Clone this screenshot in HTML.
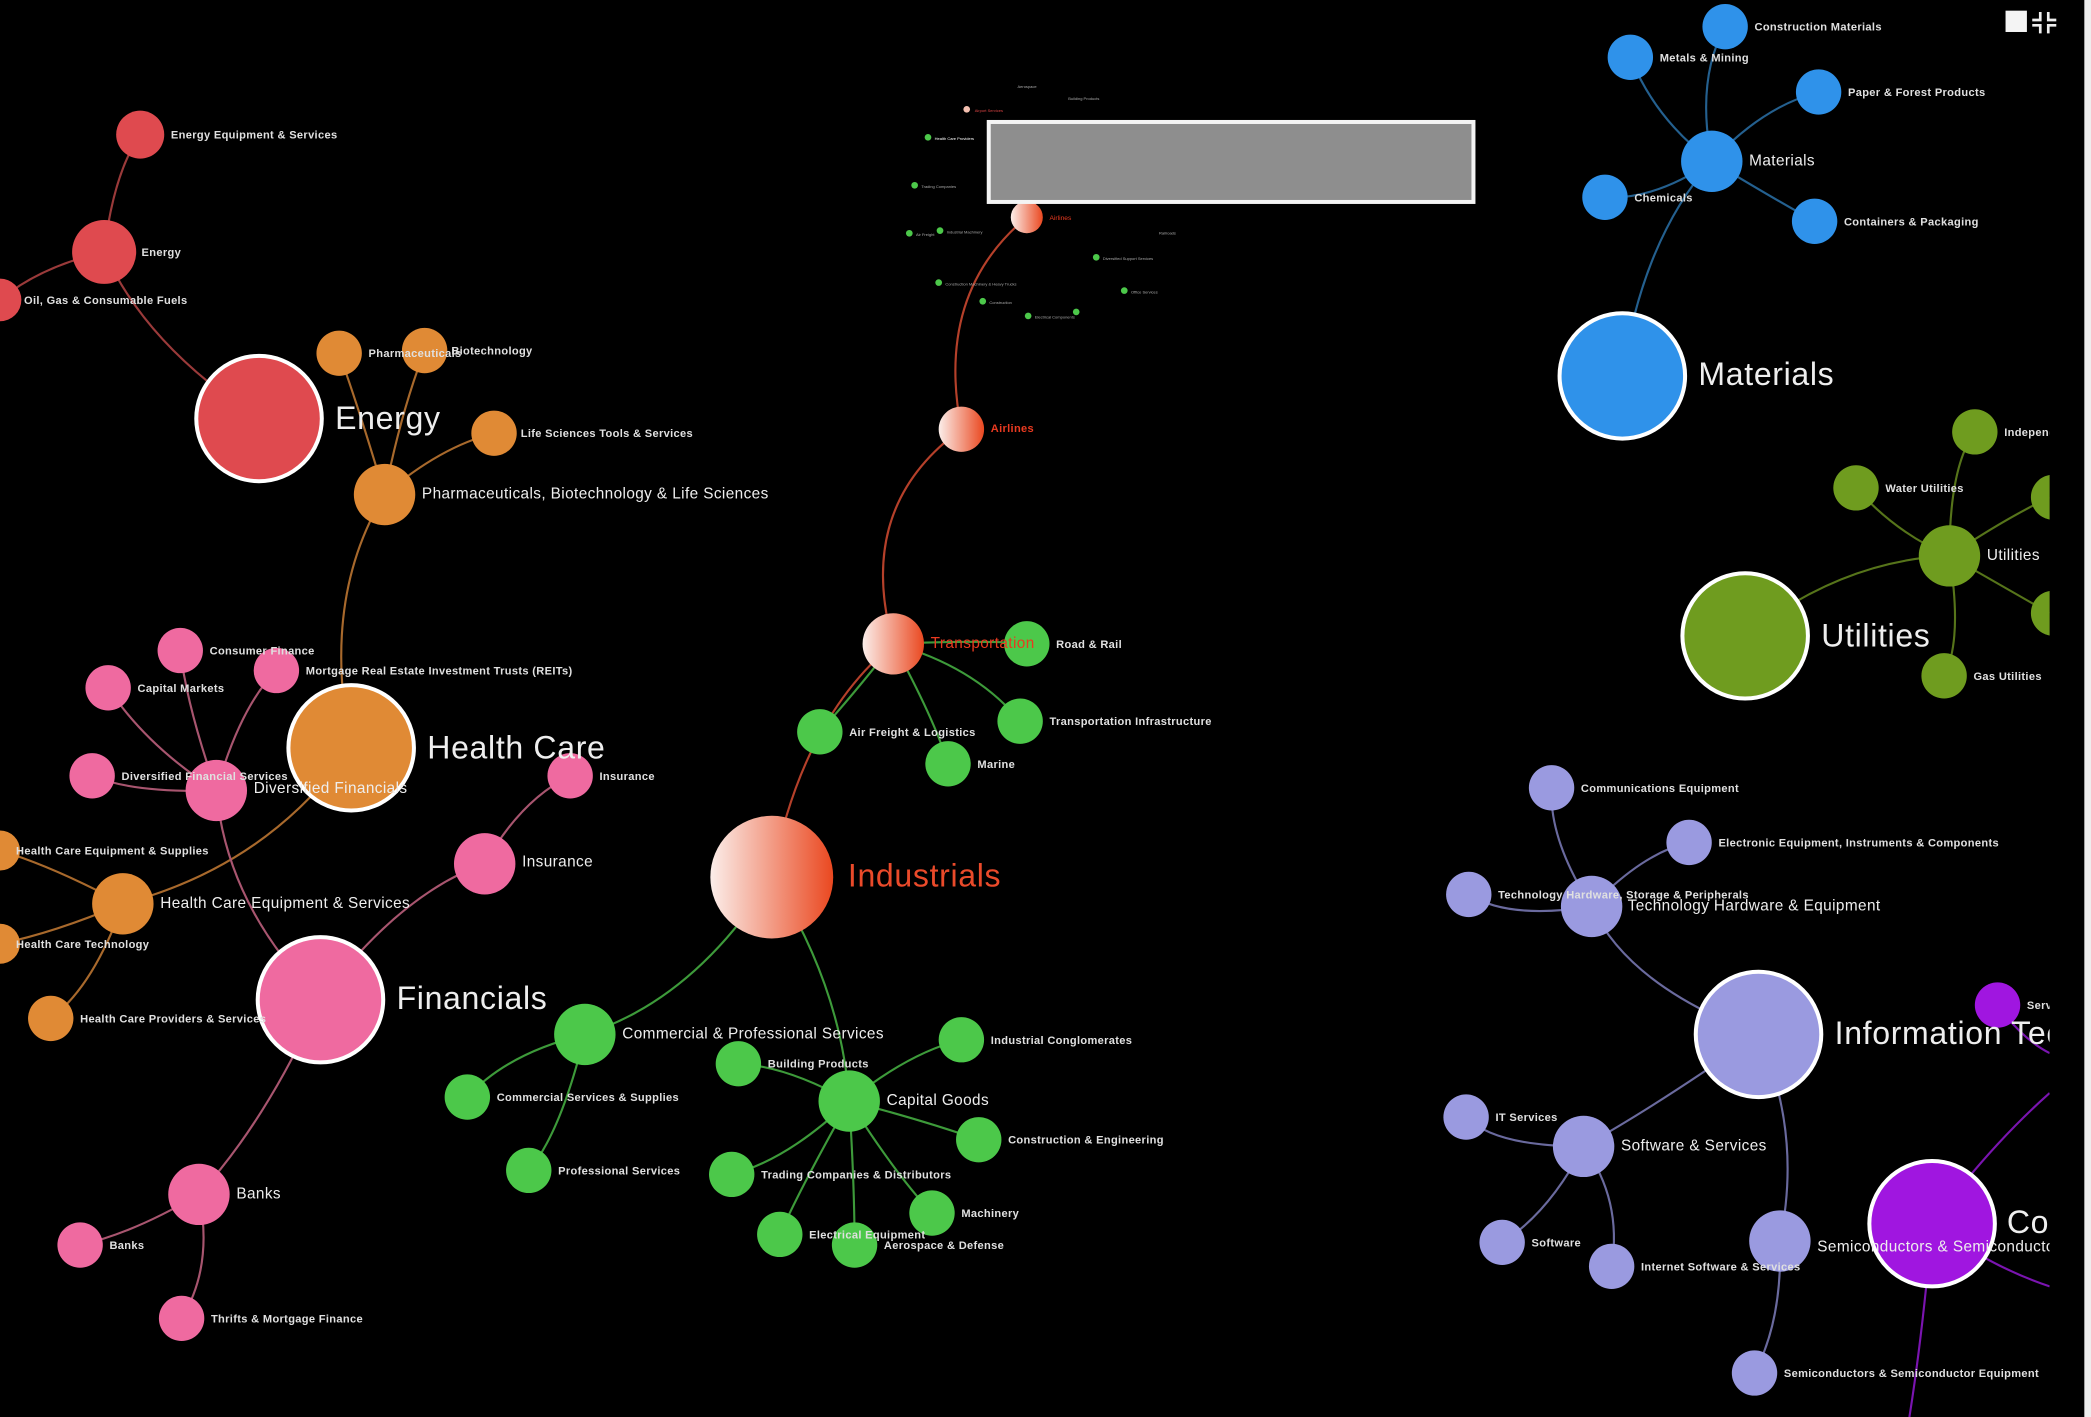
<!DOCTYPE html>
<html><head><meta charset="utf-8"><style>
html,body{margin:0;padding:0;background:#000;width:2091px;height:1417px;overflow:hidden}
svg{display:block}
text{font-family:"Liberation Sans",sans-serif;fill:#fff}
.s{font-size:8.3px;font-weight:bold;fill:#e0e0e0;letter-spacing:0.25px}
.m{font-size:11.5px;fill:#eee;letter-spacing:0.3px}
.b{font-size:24px;fill:#eee;letter-spacing:0.5px}
</style></head><body>
<svg width="2091" height="1417" viewBox="0 0 1566 1063" preserveAspectRatio="none">
<defs>
<linearGradient id="ig" x1="0" x2="1" y1="0" y2="0"><stop offset="0" stop-color="#fbeeea"/><stop offset="1" stop-color="#ea4820"/></linearGradient>
<clipPath id="cp"><rect x="0" y="0" width="1535" height="1063"/></clipPath>
</defs>
<rect width="1566" height="1063" fill="#000"/>
<rect x="1561" y="0" width="5" height="1063" fill="#eee"/>
<g clip-path="url(#cp)" fill="none" stroke-width="1.6">
<g stroke="#9a3a3a">
<path d="M194,314 Q110,260 78,189"/><path d="M78,189 Q85,130 105,101"/><path d="M78,189 Q30,200 0,225"/>
</g>
<g stroke="#a8692c">
<path d="M263,561 Q240,450 288,371"/><path d="M288,371 Q270,310 254,265"/><path d="M288,371 Q300,310 318,263"/><path d="M288,371 Q330,335 370,325"/>
<path d="M263,561 Q200,650 92,678"/><path d="M92,678 Q40,650 0,638"/><path d="M92,678 Q40,700 0,708"/><path d="M92,678 Q70,740 38,764"/>
</g>
<g stroke="#a8556f">
<path d="M240,750 Q170,680 162,593"/><path d="M162,593 Q140,530 135,488"/><path d="M162,593 Q110,560 81,516"/><path d="M162,593 Q180,530 207,503"/><path d="M162,593 Q100,595 69,582"/>
<path d="M240,750 Q300,670 363,648"/><path d="M363,648 Q390,600 427,582"/>
<path d="M240,750 Q200,840 149,896"/><path d="M149,896 Q100,925 60,934"/><path d="M149,896 Q160,950 136,989"/>
</g>
<g stroke="#b5402a">
<path d="M578,658 Q600,540 669,483"/><path d="M669,483 Q640,380 720,322"/><path d="M720,322 Q700,220 769,163"/>
</g>
<g stroke="#3d9a3a">
<path d="M669,483 Q740,480 769,483"/><path d="M669,483 Q730,500 764,541"/><path d="M669,483 Q700,540 710,573"/><path d="M669,483 Q640,520 614,549"/>
<path d="M578,658 Q520,750 438,776"/><path d="M438,776 Q380,790 350,823"/><path d="M438,776 Q420,850 396,878"/>
<path d="M578,658 Q630,740 636,826"/><path d="M636,826 Q590,800 553,798"/><path d="M636,826 Q680,790 720,780"/><path d="M636,826 Q690,840 733,855"/><path d="M636,826 Q590,870 548,881"/><path d="M636,826 Q670,880 698,910"/><path d="M636,826 Q600,890 584,926"/><path d="M636,826 Q640,890 640,934"/>
</g>
<g stroke="#24608f">
<path d="M1215,282 Q1230,180 1282,121"/><path d="M1282,121 Q1270,60 1292,20"/><path d="M1282,121 Q1240,90 1221,43"/><path d="M1282,121 Q1320,80 1362,69"/><path d="M1282,121 Q1240,150 1202,148"/><path d="M1282,121 Q1330,150 1359,166"/>
</g>
<g stroke="#56741a">
<path d="M1307,477 Q1380,420 1460,417"/><path d="M1460,417 Q1420,400 1390,366"/><path d="M1460,417 Q1460,350 1479,324"/><path d="M1460,417 Q1470,480 1456,507"/><path d="M1460,417 Q1500,390 1535,373"/><path d="M1460,417 Q1500,440 1535,460"/>
</g>
<g stroke="#6a6a9e">
<path d="M1317,776 Q1220,740 1192,680"/><path d="M1192,680 Q1160,630 1162,591"/><path d="M1192,680 Q1230,640 1265,632"/><path d="M1192,680 Q1130,690 1100,671"/>
<path d="M1317,776 Q1240,830 1186,860"/><path d="M1186,860 Q1120,860 1098,838"/><path d="M1186,860 Q1160,910 1125,932"/><path d="M1186,860 Q1215,900 1207,950"/>
<path d="M1317,776 Q1350,850 1333,931"/><path d="M1333,931 Q1335,990 1314,1030"/>
</g>
<g stroke="#7a14b0">
<path d="M1447,918 Q1490,860 1535,820"/><path d="M1447,918 Q1490,950 1535,965"/><path d="M1447,918 Q1440,1000 1430,1063"/><path d="M1496,754 Q1515,780 1535,790"/>
</g>
<g fill="#4cc84a" stroke="none">
<circle cx="695" cy="103" r="2.5"/><circle cx="685" cy="139" r="2.5"/><circle cx="681" cy="175" r="2.5"/><circle cx="704" cy="173" r="2.5"/><circle cx="703" cy="212" r="2.5"/><circle cx="736" cy="226" r="2.5"/><circle cx="770" cy="237" r="2.5"/><circle cx="821" cy="193" r="2.5"/><circle cx="842" cy="218" r="2.5"/><circle cx="806" cy="234" r="2.5"/>
</g>
<circle cx="724" cy="82" r="2.5" fill="#f4c0b0" stroke="none"/>
<g stroke="none" style="font-size:3px">
<text x="700" y="105" fill="#aaa" style="font-size:3px">Health Care Providers</text><text x="690" y="141" style="font-size:3px;fill:#aaa">Trading Companies</text><text x="686" y="177" style="font-size:3px;fill:#aaa">Air Freight</text><text x="709" y="175" style="font-size:3px;fill:#aaa">Industrial Machinery</text><text x="708" y="214" style="font-size:3px;fill:#aaa">Construction Machinery &amp; Heavy Trucks</text><text x="741" y="228" style="font-size:3px;fill:#aaa">Construction</text><text x="775" y="239" style="font-size:3px;fill:#aaa">Electrical Components</text><text x="826" y="195" style="font-size:3px;fill:#aaa">Diversified Support Services</text><text x="847" y="220" style="font-size:3px;fill:#aaa">Office Services</text><text x="762" y="66" style="font-size:3px;fill:#aaa">Aerospace</text><text x="800" y="75" style="font-size:3px;fill:#aaa">Building Products</text><text x="868" y="176" style="font-size:3px;fill:#aaa">Railroads</text>
</g>
<text x="730" y="84" style="font-size:3px;fill:#d44">Airport Services</text>
<g stroke="none">
<g fill="#df4a4f"><circle cx="78" cy="189" r="24"/><circle cx="105" cy="101" r="18"/><circle cx="0" cy="225" r="16"/></g>
<circle cx="194" cy="314" r="47" fill="#df4a4f" stroke="#fff" stroke-width="3"/>
<g fill="#e08a35"><circle cx="288" cy="371" r="23"/><circle cx="254" cy="265" r="17"/><circle cx="318" cy="263" r="17"/><circle cx="370" cy="325" r="17"/><circle cx="92" cy="678" r="23"/><circle cx="0" cy="638" r="15"/><circle cx="0" cy="708" r="15"/><circle cx="38" cy="764" r="17"/></g>
<circle cx="263" cy="561" r="47" fill="#e08a35" stroke="#fff" stroke-width="3"/>
<g fill="#ef6aa0"><circle cx="135" cy="488" r="17"/><circle cx="81" cy="516" r="17"/><circle cx="207" cy="503" r="17"/><circle cx="69" cy="582" r="17"/><circle cx="162" cy="593" r="23"/><circle cx="363" cy="648" r="23"/><circle cx="427" cy="582" r="17"/><circle cx="149" cy="896" r="23"/><circle cx="60" cy="934" r="17"/><circle cx="136" cy="989" r="17"/></g>
<circle cx="240" cy="750" r="47" fill="#ef6aa0" stroke="#fff" stroke-width="3"/>
<circle cx="578" cy="658" r="46" fill="url(#ig)"/>
<circle cx="669" cy="483" r="23" fill="url(#ig)"/>
<circle cx="720" cy="322" r="17" fill="url(#ig)"/>
<circle cx="769" cy="163" r="12" fill="url(#ig)"/>
<g fill="#4cc84a"><circle cx="769" cy="483" r="17"/><circle cx="764" cy="541" r="17"/><circle cx="710" cy="573" r="17"/><circle cx="614" cy="549" r="17"/><circle cx="438" cy="776" r="23"/><circle cx="350" cy="823" r="17"/><circle cx="396" cy="878" r="17"/><circle cx="636" cy="826" r="23"/><circle cx="553" cy="798" r="17"/><circle cx="720" cy="780" r="17"/><circle cx="733" cy="855" r="17"/><circle cx="548" cy="881" r="17"/><circle cx="698" cy="910" r="17"/><circle cx="584" cy="926" r="17"/><circle cx="640" cy="934" r="17"/></g>
<g fill="#2f92ea"><circle cx="1282" cy="121" r="23"/><circle cx="1292" cy="20" r="17"/><circle cx="1221" cy="43" r="17"/><circle cx="1362" cy="69" r="17"/><circle cx="1202" cy="148" r="17"/><circle cx="1359" cy="166" r="17"/></g>
<circle cx="1215" cy="282" r="47" fill="#2f92ea" stroke="#fff" stroke-width="3"/>
<g fill="#6f9c1f"><circle cx="1460" cy="417" r="23"/><circle cx="1390" cy="366" r="17"/><circle cx="1479" cy="324" r="17"/><circle cx="1456" cy="507" r="17"/><circle cx="1538" cy="373" r="17"/><circle cx="1538" cy="460" r="17"/></g>
<circle cx="1307" cy="477" r="47" fill="#6f9c1f" stroke="#fff" stroke-width="3"/>
<g fill="#9a9ae0"><circle cx="1192" cy="680" r="23"/><circle cx="1162" cy="591" r="17"/><circle cx="1265" cy="632" r="17"/><circle cx="1100" cy="671" r="17"/><circle cx="1186" cy="860" r="23"/><circle cx="1098" cy="838" r="17"/><circle cx="1125" cy="932" r="17"/><circle cx="1207" cy="950" r="17"/><circle cx="1333" cy="931" r="23"/><circle cx="1314" cy="1030" r="17"/></g>
<circle cx="1317" cy="776" r="47" fill="#9a9ae0" stroke="#fff" stroke-width="3"/>
<circle cx="1496" cy="754" r="17" fill="#a016e0"/>
<circle cx="1447" cy="918" r="47" fill="#a016e0" stroke="#fff" stroke-width="3"/>
</g>
<g stroke="none">
<text class="b" x="251" y="322">Energy</text>
<text class="s" x="106" y="192">Energy</text>
<text class="s" x="128" y="104">Energy Equipment &amp; Services</text>
<text class="s" x="18" y="228">Oil, Gas &amp; Consumable Fuels</text>
<text class="b" x="320" y="569">Health Care</text>
<text class="m" x="316" y="374">Pharmaceuticals, Biotechnology &amp; Life Sciences</text>
<text class="s" x="276" y="268">Pharmaceuticals</text>
<text class="s" x="338" y="266">Biotechnology</text>
<text class="s" x="390" y="328">Life Sciences Tools &amp; Services</text>
<text class="m" x="120" y="681">Health Care Equipment &amp; Services</text>
<text class="s" x="12" y="641">Health Care Equipment &amp; Supplies</text>
<text class="s" x="12" y="711">Health Care Technology</text>
<text class="s" x="60" y="767">Health Care Providers &amp; Services</text>
<text class="b" x="297" y="757">Financials</text>
<text class="m" x="190" y="595">Diversified Financials</text>
<text class="s" x="157" y="491">Consumer Finance</text>
<text class="s" x="103" y="519">Capital Markets</text>
<text class="s" x="229" y="506">Mortgage Real Estate Investment Trusts (REITs)</text>
<text class="s" x="91" y="585">Diversified Financial Services</text>
<text class="m" x="391" y="650">Insurance</text>
<text class="s" x="449" y="585">Insurance</text>
<text class="m" x="177" y="899">Banks</text>
<text class="s" x="82" y="937">Banks</text>
<text class="s" x="158" y="992">Thrifts &amp; Mortgage Finance</text>
<text class="b" x="635" y="665" style="fill:#ea4a2a">Industrials</text>
<text class="m" x="697" y="486" style="fill:#ea3a20">Transportation</text>
<text class="s" x="742" y="324" style="fill:#ea3a20">Airlines</text>
<text x="786" y="165" style="fill:#ea3a20;font-size:5px">Airlines</text>
<text class="s" x="791" y="486">Road &amp; Rail</text>
<text class="s" x="786" y="544">Transportation Infrastructure</text>
<text class="s" x="732" y="576">Marine</text>
<text class="s" x="636" y="552">Air Freight &amp; Logistics</text>
<text class="m" x="466" y="779">Commercial &amp; Professional Services</text>
<text class="s" x="372" y="826">Commercial Services &amp; Supplies</text>
<text class="s" x="418" y="881">Professional Services</text>
<text class="m" x="664" y="829">Capital Goods</text>
<text class="s" x="575" y="801">Building Products</text>
<text class="s" x="742" y="783">Industrial Conglomerates</text>
<text class="s" x="755" y="858">Construction &amp; Engineering</text>
<text class="s" x="570" y="884">Trading Companies &amp; Distributors</text>
<text class="s" x="720" y="913">Machinery</text>
<text class="s" x="606" y="929">Electrical Equipment</text>
<text class="s" x="662" y="937">Aerospace &amp; Defense</text>
<text class="b" x="1272" y="289">Materials</text>
<text class="m" x="1310" y="124">Materials</text>
<text class="s" x="1314" y="23">Construction Materials</text>
<text class="s" x="1243" y="46">Metals &amp; Mining</text>
<text class="s" x="1384" y="72">Paper &amp; Forest Products</text>
<text class="s" x="1224" y="151">Chemicals</text>
<text class="s" x="1381" y="169">Containers &amp; Packaging</text>
<text class="b" x="1364" y="485">Utilities</text>
<text class="m" x="1488" y="420">Utilities</text>
<text class="s" x="1412" y="369">Water Utilities</text>
<text class="s" x="1501" y="327">Independent</text>
<text class="s" x="1478" y="510">Gas Utilities</text>
<text class="b" x="1374" y="783">Information Technology</text>
<text class="m" x="1219" y="683">Technology Hardware &amp; Equipment</text>
<text class="s" x="1184" y="594">Communications Equipment</text>
<text class="s" x="1287" y="635">Electronic Equipment, Instruments &amp; Components</text>
<text class="s" x="1122" y="674">Technology Hardware, Storage &amp; Peripherals</text>
<text class="m" x="1214" y="863">Software &amp; Services</text>
<text class="s" x="1120" y="841">IT Services</text>
<text class="s" x="1147" y="935">Software</text>
<text class="s" x="1229" y="953">Internet Software &amp; Services</text>
<text class="m" x="1361" y="939">Semiconductors &amp; Semiconductor</text>
<text class="s" x="1336" y="1033">Semiconductors &amp; Semiconductor Equipment</text>
<text class="b" x="1503" y="925">Communication</text>
<text class="s" x="1518" y="757">Services</text>
</g>
</g>
<rect x="740.5" y="91.5" width="363" height="60" fill="#8e8e8e" stroke="#f4f4f4" stroke-width="3"/>
<rect x="1502" y="8" width="16" height="16" fill="#f4f4f4"/>
<g stroke="#eee" stroke-width="2" fill="none">
<path d="M1528,9 v6 h-6"/><path d="M1534,9 v6 h6"/><path d="M1528,25 v-6 h-6"/><path d="M1534,25 v-6 h6"/>
</g>
</svg>
</body></html>
